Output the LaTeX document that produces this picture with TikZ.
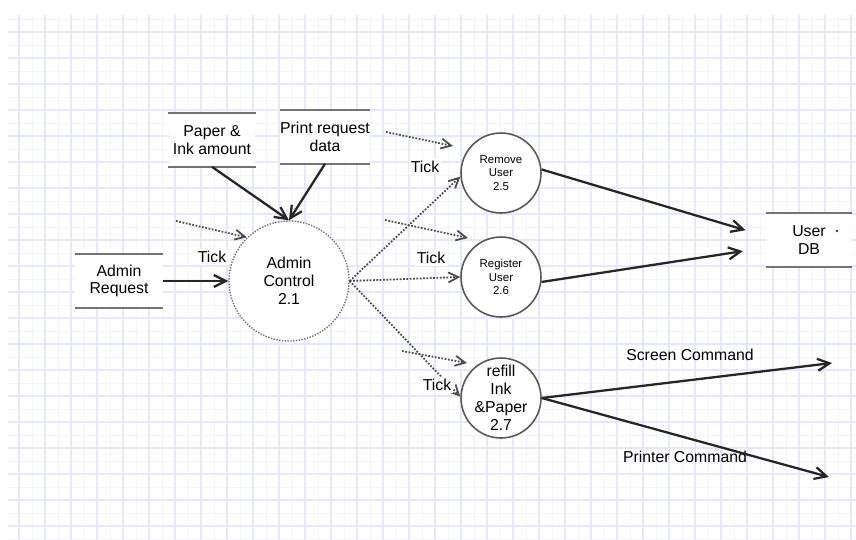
\documentclass[tikz,border=0pt]{standalone}
\usepackage{fontspec}
\setmainfont{Liberation Sans}
\usetikzlibrary{arrows.meta}
\definecolor{gridmaj}{RGB}{230,230,252}
\definecolor{gridmin}{RGB}{244,244,253}
\begin{document}
\begin{tikzpicture}[x=0.02cm,y=-0.02cm,
		proc/.style={circle,draw=black!65,line width=0.9pt,fill=white,inner sep=0pt,minimum size=1.6cm,align=center,font=\fontsize{9}{10.3}\selectfont},
		procsmall/.style={proc,font=\fontsize{6.5}{7.5}\selectfont},
		store/.style={fill=white,inner sep=0pt,minimum width=1.74cm,minimum height=1.06cm,align=center,font=\fontsize{9}{10}\selectfont},
		storeline/.style={draw=black!55,line width=1.2pt},
		flow/.style={draw=black!85,line width=1.3pt,-{Straight Barb[length=0.24cm,width=0.24cm]}},
		dflow/.style={draw=black!70,line width=1pt,dash pattern=on 1pt off 0.9pt,-{Straight Barb[length=0.2cm,width=0.2cm]}},
		lbl/.style={fill=white,inner sep=1pt,font=\fontsize{9}{10}\selectfont},
		flowlbl/.style={inner sep=0pt,font=\fontsize{9}{10}\selectfont}]
				\useasboundingbox (0,0) rectangle (856,539);
				\fill[white] (0,0) rectangle (856,539);
				\foreach \x in {32,58,...,856} \draw[gridmin,line width=0.5pt] (\x,15) -- (\x,539);
				\foreach \y in {19,45,...,539} \draw[gridmin,line width=0.5pt] (8,\y) -- (856,\y);
				\foreach \x in {19,45,...,856} \draw[gridmaj,line width=0.8pt] (\x,15) -- (\x,539);
				\foreach \y in {32,58,...,539} \draw[gridmaj,line width=0.8pt] (8,\y) -- (856,\y);
				\node[store,minimum width=1.76cm,minimum height=1.08cm] (adm) at (119,281) {Admin\\Request};
				\node[store] (pia) at (212,140) {Paper \&\\Ink amount};
				\node[store,minimum width=1.72cm] (prd) at (325,137) {Print request\\data};
				\node[store,minimum width=1.72cm,minimum height=1.08cm] (udb) at (809,240) {User\\DB};
				\foreach \s in {adm,pia,prd,udb} {
					\draw[storeline] (\s.north west) -- (\s.north east);
					\draw[storeline] (\s.south west) -- (\s.south east);
				}
				\fill[black!80] (837,231) circle (1.4);
				\node[proc,minimum size=2.4cm,draw=black!55,line width=0.8pt,dash pattern=on 0.8pt off 0.8pt] (ctl) at (289,281) {Admin\\Control\\2.1};
				\node[procsmall] (rmu) at (501,173) {Remove\\User\\2.5};
				\node[procsmall] (reg) at (501,277) {Register\\User\\2.6};
				\node[proc,inner sep=-2pt] (ref) at (501,398) {refill\\Ink\\\&Paper\\2.7};
				\coordinate (a1) at (176,221);
				\coordinate (f1) at (386,132);
				\coordinate (f1e) at (453,146);
				\coordinate (f2) at (385,220);
				\coordinate (f2e) at (468,238);
				\coordinate (f3) at (402,351);
				\coordinate (f3e) at (467,363);
				\coordinate (sc) at (832,363);
				\coordinate (pc) at (829,477);
				\node[flowlbl] (scl) at (690,355) {Screen Command};
				\node[flowlbl] (pcl) at (685,457) {Printer Command};
				\draw[flow] (adm) -- (ctl);
				\draw[flow] (pia.south) -- (ctl.north);
				\draw[flow] (prd.south) -- (ctl.north);
				\draw[dflow] (a1) -- (ctl.134);
				\draw[dflow] (ctl.east) -- (rmu.185);
				\draw[dflow] (ctl.east) -- (reg.180);
				\draw[dflow] (ctl.east) -- (ref.178);
				\draw[dflow] (f1) -- (f1e);
				\draw[dflow] (f2) -- (f2e);
				\draw[dflow] (f3) -- (f3e);
				\draw[flow,shorten >=0.42cm] (rmu.5) -- (udb.175);
				\draw[flow,shorten >=0.46cm] (reg.-7) -- (udb.190);
				\draw[flow] (ref.east) -- (sc);
				\draw[flow] (ref.east) -- (pc);
				\node[lbl] (t1) at (212,257) {Tick};
				\node[lbl] (t2) at (425,167) {Tick};
				\node[lbl] (t3) at (431,258) {Tick};
				\node[lbl] (t4) at (437,385) {Tick};
\end{tikzpicture}
\end{document}
